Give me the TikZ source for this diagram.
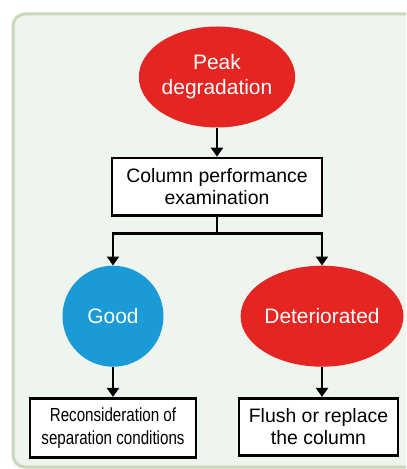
\documentclass[tikz,border=0pt]{standalone}
\usepackage{fontspec}
\setmainfont{Liberation Sans}
\newfontfamily\narrowfont[FakeStretch=0.8]{Liberation Sans}
\usetikzlibrary{arrows.meta,positioning,shapes.geometric}
\definecolor{peakred}{HTML}{E52521}
\definecolor{goodblue}{HTML}{1A9BD7}
\definecolor{panelfill}{HTML}{EEF5EF}
\definecolor{panelline}{HTML}{CAD6B8}

\begin{document}
\begin{tikzpicture}[x=1bp, y=-1bp,
  oval/.style={ellipse, inner sep=0pt, minimum width=150bp, minimum height=101bp, fill=peakred, text=white, align=center, font=\fontsize{21}{25}\selectfont},
  circ/.style={circle, inner sep=0pt, minimum size=101bp, fill=goodblue, text=white, font=\fontsize{21}{25}\selectfont},
  box/.style={draw, line width=2.8bp, fill=white, align=center, inner sep=2pt, minimum width=210bp, minimum height=57bp, font=\fontsize{19.5}{22}\selectfont},
  arr/.style={-{Triangle[width=12bp, length=9bp]}, line width=2.8bp},
  panel/.style={draw=panelline, fill=panelfill, line width=3bp, rounded corners=12bp}
]
\useasboundingbox (0,0) rectangle (406,469);
\clip (0,0) rectangle (406,469);

% background panel
\draw[panel] (13,14) rectangle (440,467);

\node[oval] (peak) at (217,77) {Peak\\degradation};

\node[box, below=29bp of peak] (exam) {Column performance\\examination};

\node[circ, below=49bp of exam, xshift=-104bp] (good) {Good};
\node[oval, below=49bp of exam, xshift=105bp] (det) {Deteriorated};

\node[box, below=30bp of good, minimum width=166bp, minimum height=59bp, font=\narrowfont\fontsize{19}{23}\selectfont] (recon) {Reconsideration of\\separation conditions};
\node[box, below=30bp of det, xshift=-3.5bp, minimum width=159bp] (flush) {Flush or replace\\the column};

\coordinate[below=17bp of exam] (split);

\draw[arr] (peak) -- (exam);
\draw[line width=2.8bp] (exam.south) -- (split);
\draw[arr] (split) -| (good.north);
\draw[arr] (split) -| (det.north);
\draw[arr] (good) -- (recon);
\draw[arr] (det.south) -- (det.south |- flush.north);

\end{tikzpicture}
\end{document}
